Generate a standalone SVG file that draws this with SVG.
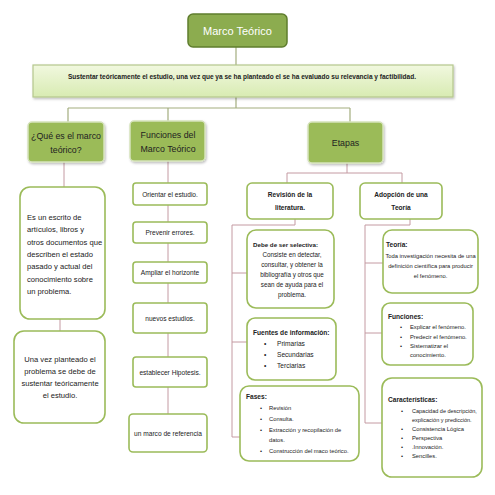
<svg xmlns="http://www.w3.org/2000/svg" width="495" height="495" viewBox="0 0 495 495">
<style>
text{font-family:"Liberation Sans",Arial,sans-serif;fill:#222}
.c{text-anchor:middle}
.b{font-weight:bold}
.box{fill:#fff;stroke:#9bbb59;stroke-width:1.6}
.hdr{fill:#9bbb59;stroke:#d6e3bc;stroke-width:1.5}
.ln{fill:none;stroke:#c49aa2;stroke-width:1}
.lg{fill:none;stroke:#a3ad7f;stroke-width:1.2}
.s7{font-size:6.6px}
.s6{font-size:5.8px}
.s65{font-size:6.3px}
.s8{font-size:7.6px}
.h{font-size:8.8px}
</style>
<defs>
<linearGradient id="g1" x1="0" y1="0" x2="0" y2="1">
<stop offset="0" stop-color="#f1f8df"/>
<stop offset="1" stop-color="#d8ebb2"/>
</linearGradient>
<filter id="sh" x="-10%" y="-10%" width="130%" height="140%">
<feDropShadow dx="1" dy="1.5" stdDeviation="1" flood-color="#000" flood-opacity="0.25"/>
</filter>
</defs>
<rect width="495" height="495" fill="#fff"/>
<g id="connectors">
<path class="lg" d="M236 47V65M236 97V108M68 108H350M68 108V122M168 108V121M350 108V122"/>
<path class="ln" d="M64 162V187M60 319V331"/>
<path class="ln" d="M168 161V414"/>
<path class="ln" d="M347 163V173M287 173H402M287 173V183M402 173V183"/>
<path class="ln" d="M295 219V225H232V437H240M232 273H247M232 342H247"/>
<path class="ln" d="M410 219V225H365V423H382M365 263H383M365 333H382"/>
</g>
<g id="n-marco">
<rect x="188" y="14" width="99" height="33" rx="5" fill="#8cac4f" stroke="#5f7d2e" stroke-width="1.5"/>
<text x="237.5" y="35" class="c" style="font-size:11px;fill:#fff">Marco Teórico</text>
</g>
<g id="n-sustentar">
<rect x="33" y="65" width="420" height="32" fill="url(#g1)" stroke="#b5c78d" stroke-width="1.2" filter="url(#sh)"/>
<text x="242" y="79" class="c b" style="font-size:7.4px" textLength="348" lengthAdjust="spacingAndGlyphs">Sustentar teóricamente el estudio, una vez que ya se ha planteado el se ha evaluado su relevancia y factibilidad.</text>
</g>
<g id="n-que">
<rect x="28" y="122" width="76" height="40" rx="4" class="hdr" filter="url(#sh)"/>
<text x="66" y="139" class="c h">¿Qué es el marco</text>
<text x="66" y="153" class="c h">teórico?</text>
</g>
<g id="n-funciones">
<rect x="130" y="121" width="75" height="40" rx="4" class="hdr" filter="url(#sh)"/>
<text x="168" y="138" class="c h">Funciones del</text>
<text x="168" y="152" class="c h">Marco Teórico</text>
</g>
<g id="n-etapas">
<rect x="308" y="122" width="75" height="41" rx="4" class="hdr" filter="url(#sh)"/>
<text x="345.5" y="146" class="c h">Etapas</text>
</g>
<g id="n-escrito">
<rect x="20" y="187" width="85" height="132" rx="10" class="box"/>
<text x="27" y="220" class="s8">Es un escrito de</text>
<text x="27" y="232" class="s8">artículos, libros y</text>
<text x="27" y="245" class="s8">otros documentos que</text>
<text x="27" y="257" class="s8">describen el estado</text>
<text x="27" y="269" class="s8">pasado y actual del</text>
<text x="27" y="282" class="s8">conocimiento sobre</text>
<text x="27" y="294" class="s8">un problema.</text>
</g>
<g id="n-unavez">
<rect x="14" y="331" width="91" height="92" rx="10" class="box"/>
<text x="60" y="362" class="c s8">Una vez planteado el</text>
<text x="60" y="374" class="c s8">problema se debe de</text>
<text x="60" y="386" class="c s8">sustentar teóricamente</text>
<text x="60" y="398" class="c s8">el estudio.</text>
</g>
<g id="n-orientar">
<rect x="133" y="183" width="74" height="22" rx="3" class="box"/>
<text x="170" y="196.5" class="c s7">Orientar el estudio.</text>
</g>
<g id="n-prevenir">
<rect x="133" y="222" width="74" height="21" rx="3" class="box"/>
<text x="170" y="235" class="c s7">Prevenir errores.</text>
</g>
<g id="n-ampliar">
<rect x="133" y="262" width="74" height="21" rx="3" class="box"/>
<text x="170" y="275" class="c s7">Ampliar el horizonte</text>
</g>
<g id="n-nuevos">
<rect x="133" y="303" width="74" height="30" rx="3" class="box"/>
<text x="170" y="320.5" class="c s7">nuevos estudios.</text>
</g>
<g id="n-hipotesis">
<rect x="133" y="357" width="74" height="30" rx="3" class="box"/>
<text x="170" y="374.5" class="c s7">establecer Hipotesis.</text>
</g>
<g id="n-referencia">
<rect x="129" y="414" width="78" height="38" rx="4" class="box"/>
<text x="168" y="435.5" class="c s7">un marco de referencia</text>
</g>
<g id="n-revision">
<rect x="247" y="183" width="86" height="36" rx="5" class="box"/>
<text x="290" y="197" class="c b s7">Revisión de la</text>
<text x="290" y="210" class="c b s7">literatura.</text>
</g>
<g id="n-adopcion">
<rect x="360" y="183" width="82" height="36" rx="5" class="box"/>
<text x="401" y="197" class="c b s7">Adopción de una</text>
<text x="401" y="210" class="c b s7">Teoría</text>
</g>
<g id="n-selectiva">
<rect x="247" y="230" width="87" height="78" rx="9" class="box"/>
<text x="253" y="247" class="b" style="font-size:6.2px">Debe de ser selectiva:</text>
<text x="292" y="257" class="c s65">Consiste en detectar,</text>
<text x="292" y="267" class="c s65">consultar, y obtener la</text>
<text x="292" y="277" class="c s65">bibliografía  y otros que</text>
<text x="292" y="287" class="c s65">sean de ayuda para el</text>
<text x="292" y="297" class="c s65">problema.</text>
</g>
<g id="n-fuentes">
<rect x="247" y="318" width="89" height="62" rx="8" class="box"/>
<text x="253" y="335" class="b s7">Fuentes de información:</text>
<text x="264" y="346" class="s7">•</text><text x="277" y="346" class="s7">Primarias</text>
<text x="264" y="357" class="s7">•</text><text x="277" y="357" class="s7">Secundarias</text>
<text x="264" y="368" class="s7">•</text><text x="277" y="368" class="s7">Terciarias</text>
</g>
<g id="n-fases">
<rect x="240" y="386" width="119" height="75" rx="9" class="box"/>
<text x="246" y="399" class="b s7">Fases:</text>
<text x="260" y="410" class="s6">•</text><text x="269" y="410" class="s6">Revisión</text>
<text x="260" y="421" class="s6">•</text><text x="269" y="421" class="s6">Consulta.</text>
<text x="260" y="432" class="s6">•</text><text x="269" y="432" class="s6">Extracción y recopilación de</text>
<text x="269" y="442" class="s6">datos.</text>
<text x="260" y="453" class="s6">•</text><text x="269" y="453" class="s6">Construcción del maco teórico.</text>
</g>
<g id="n-teoria">
<rect x="383" y="230" width="95" height="63" rx="9" class="box"/>
<text x="386" y="247" class="b s7">Teoría:</text>
<text x="430.5" y="258" class="c s6">Toda investigación necesita de una</text>
<text x="430.5" y="268" class="c s6">definición científica para producir</text>
<text x="430.5" y="278" class="c s6">el fenómeno.</text>
</g>
<g id="n-funciones2">
<rect x="382" y="303" width="91" height="62" rx="8" class="box"/>
<text x="388" y="319" class="b s7">Funciones:</text>
<text x="400" y="329" class="s6">•</text><text x="410" y="329" class="s6">Explicar el fenómeno.</text>
<text x="400" y="339" class="s6">•</text><text x="410" y="339" class="s6">Predecir el fenómeno.</text>
<text x="400" y="348" class="s6">•</text><text x="410" y="348" class="s6">Sistematizar el</text>
<text x="410" y="357" class="s6">conocimiento.</text>
</g>
<g id="n-caracteristicas">
<rect x="382" y="378" width="100" height="99" rx="10" class="box"/>
<text x="388" y="402" class="b s7">Características:</text>
<text x="401" y="413" class="s6">•</text><text x="412" y="413" class="s6" style="font-size:5.5px">Capacidad de descripción,</text>
<text x="412" y="422" class="s6" style="font-size:5.5px">explicación y predicción.</text>
<text x="401" y="431" class="s6">•</text><text x="412" y="431" class="s6">Consistencia Lógica</text>
<text x="401" y="440" class="s6">•</text><text x="412" y="440" class="s6">Perspectiva</text>
<text x="401" y="449" class="s6">•</text><text x="412" y="449" class="s6">.Innovación.</text>
<text x="401" y="458" class="s6">•</text><text x="412" y="458" class="s6">Sencilles.</text>
</g>
</svg>
